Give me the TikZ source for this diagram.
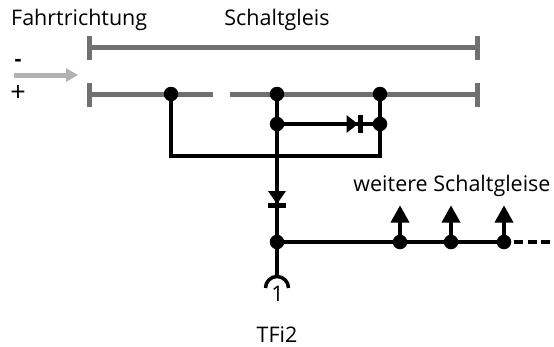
\documentclass[tikz,border=0pt]{standalone}
\usepackage{fontspec}
\setmainfont{Open Sans}
\usetikzlibrary{arrows.meta}
\tikzset{
  x=1pt,y=-1pt,
  rail/.style={draw=railgray,line width=5pt},
  railcap/.style={draw=railgray,line width=5pt},
  wire/.style={draw=black,line width=4.6pt},
  dot/.style={circle,fill=black,inner sep=0pt,minimum size=14.5pt},
  label/.style={inner sep=0pt,font=\fontsize{21.5}{25}\selectfont,text=black,anchor=base},
  tip/.style={fill=black,draw=none},
}
\definecolor{railgray}{RGB}{112,112,112}
\definecolor{arrowgray}{RGB}{178,178,178}
\begin{document}
\begin{tikzpicture}
\useasboundingbox (0,0) rectangle (554,346);
% rails
\coordinate (tl) at (89,47); \coordinate (tr) at (477,47);
\coordinate (bl) at (89,94); \coordinate (br) at (477,94);
\coordinate (g1) at (212.5,94); \coordinate (g2) at (230,94);
\draw[rail] (tl) -- (tr);
\draw[rail] (bl) -- (g1);
\draw[rail] (g2) -- (br);
\draw[railcap] (89,36) -- (89,60);
\draw[railcap] (477,36) -- (477,60);
\draw[railcap] (89,83) -- (89,107);
\draw[railcap] (477,83) -- (477,107);
% direction arrow
\coordinate (a1) at (14,75); \coordinate (a2) at (78,75);
\draw[draw=arrowgray,line width=5pt,-{Triangle[length=12pt,width=13pt]}] (a1) -- (a2);
% junctions
\node[dot] (j1) at (171,94) {};
\node[dot] (j2) at (277,94) {};
\node[dot] (j3) at (277,124) {};
\node[dot] (j4) at (380,94) {};
\node[dot] (j5) at (380,124) {};
\node[dot] (j6) at (277,242) {};
\node[dot] (j7) at (400,242) {};
\node[dot] (j8) at (451,242) {};
\node[dot] (j9) at (504,242) {};
% wires
\draw[wire] (j1.center) |- (380,156) -- (j4.center);
\draw[wire] (j2.center) -- (j6.center);
\draw[wire] (j3.center) -- (j5.center);
\draw[wire] (j6.center) -- (j9.center);
\coordinate (dend) at (554,242);
\draw[wire,dash pattern=on 9pt off 4.5pt] (514,242) -- (dend);
% horizontal diode
\fill[tip] (346.5,115) -- (358,124) -- (346.5,133) -- cycle;
\draw[draw=black,line width=4.5pt] (360.5,115) -- (360.5,133);
% vertical diode
\fill[tip] (268,191) -- (277,204) -- (286,191) -- cycle;
\draw[draw=black,line width=4.5pt] (268,205.5) -- (286,205.5);
% up arrows
\foreach \j/\x in {j7/400,j8/451,j9/504}{
  \draw[wire] (\j.center) -- (\x,220);
  \fill[tip] (\x,205.5) -- (\x+9.5,222.5) -- (\x-9.5,222.5) -- cycle;
}
% socket
\coordinate (s) at (277,278);
\draw[wire] (j6.center) -- (s);
\draw[draw=black,line width=3.5pt] (265.5,288) arc[start angle=180,end angle=360,radius=11.5];
% text
\node[label,anchor=base west] (t1) at (11,25) {Fahrtrichtung};
\node[label] (t2) at (277,25) {Schaltgleis};
\node[label] (t3) at (452,191) {weitere Schaltgleise};
\node[label] (t4) at (18,66) {\textbf{-}};
\node[label,font=\fontsize{27}{30}\selectfont] (t5) at (18,101) {+};
\node[label] (t6) at (277.5,301) {1};
\node[label] (t7) at (277,342) {TFi2};
\end{tikzpicture}
\end{document}
